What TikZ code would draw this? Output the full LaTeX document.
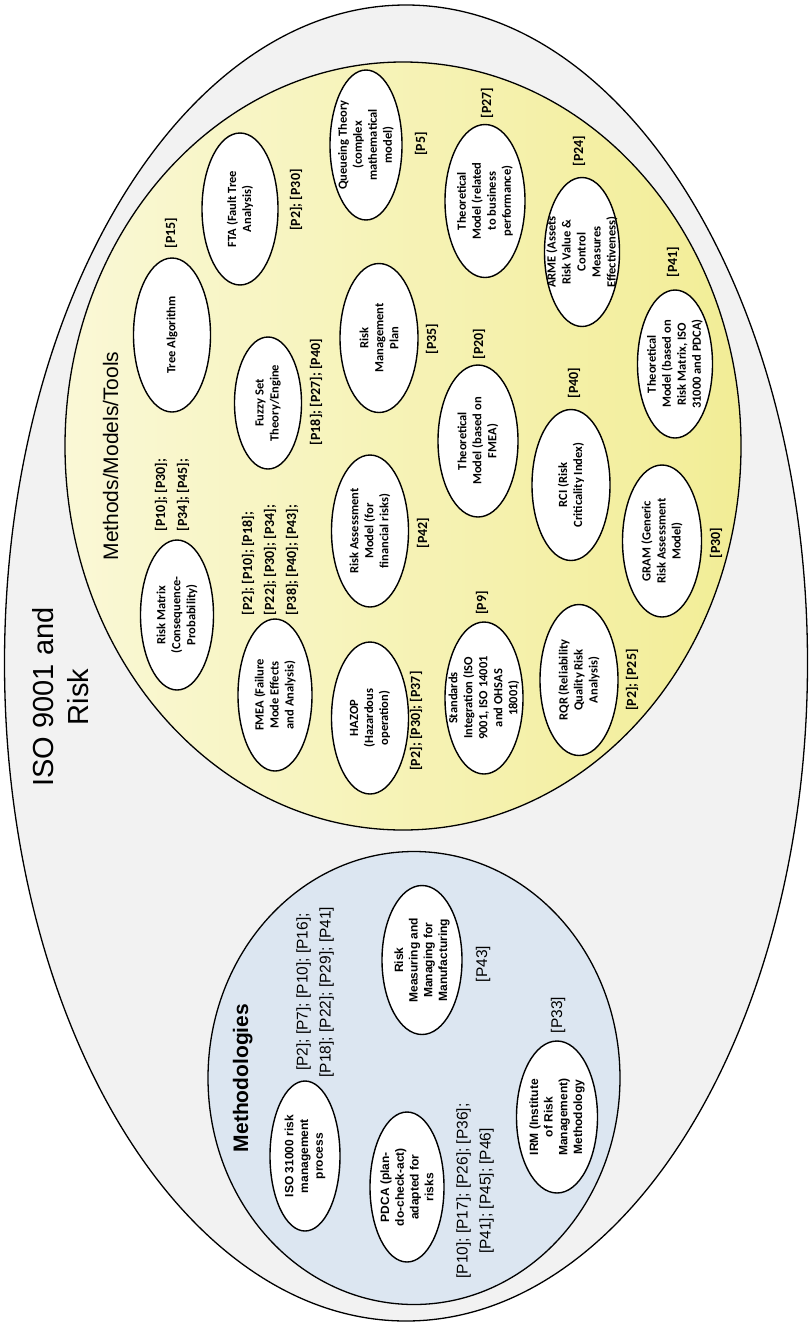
\documentclass[tikz,border=0pt]{standalone}
\usepackage{fontspec}
\setmainfont{Liberation Sans}
\newfontfamily\calfont{Carlito}
\usetikzlibrary{shapes.geometric}

\definecolor{outergray}{HTML}{F2F2F2}
\definecolor{yellowlight}{HTML}{FAF8D6}
\definecolor{yellowdeep}{HTML}{F2ED96}
\definecolor{bluefill}{HTML}{DCE6F1}

\tikzset{
    region/.style={draw, ellipse, line width=1.3pt, inner sep=0pt},
    bubble/.style={draw, ellipse, fill=white, line width=1.4pt, rotate=90, inner sep=0pt,
        minimum width=152pt, minimum height=77pt},
    ytext/.style={rotate=90, align=center, inner sep=0pt,
        font=\calfont\bfseries\fontsize{12.5}{15}\selectfont},
    btext/.style={rotate=90, align=center, inner sep=0pt,
        font=\bfseries\fontsize{12}{14.7}\selectfont},
    yref/.style={rotate=90, align=left, inner sep=0pt,
        font=\calfont\bfseries\fontsize{14}{22}\selectfont},
    bref/.style={rotate=90, align=center, inner sep=0pt,
        font=\fontsize{15.5}{23}\selectfont},
}

\begin{document}
\begin{tikzpicture}[x=1pt, y=-1pt]
    \useasboundingbox (0,0) rectangle (810,1325);

    % Regions
    \node [region, fill=outergray, minimum width=803pt, minimum height=1316pt] (iso) at (406,663) {};
    \node [region, left color=yellowlight, right color=yellowdeep, minimum width=676pt, minimum height=768pt] (methods) at (403,446) {};
    \node [region, fill=bluefill, minimum width=412pt, minimum height=453pt] (methodologies) at (414,1078) {};

    % Titles
    \node [rotate=90, align=center, inner sep=0pt, font=\fontsize{29}{35}\selectfont] (isotitle) at (61,697) {ISO 9001 and\\Risk};
    \node [rotate=90, anchor=base, inner sep=0pt, font=\fontsize{21}{25}\selectfont] (methodstitle) at (118,456) {Methods/Models/Tools};
    \node [rotate=90, anchor=base, inner sep=0pt, font=\bfseries\fontsize{21}{25}\selectfont] (methodologiestitle) at (248,1078) {Methodologies};

    % Methods/Models/Tools
    \node [bubble, minimum height=73pt, minimum width=150pt] (riskmatrix) at (177,615) {};
    \node [ytext] (riskmatrix-t) at (riskmatrix) {Risk Matrix\\(Consequence-\\Probability)};
    \node [bubble, minimum width=154pt] (treealg) at (172,335) {};
    \node [ytext] (treealg-t) at (treealg) {Tree Algorithm};
    \node [bubble, minimum height=76pt] (fta) at (240,209) {};
    \node [ytext] (fta-t) at (fta) {FTA (Fault Tree\\Analysis)};
    \node [bubble, minimum height=72pt, minimum width=150pt] (queue) at (366,145) {};
    \node [ytext] (queue-t) at (queue) {Queueing Theory\\(complex\\mathematical\\model)};
    \node [bubble, minimum height=67pt, minimum width=132pt] (fuzzy) at (268,403) {};
    \node [ytext] (fuzzy-t) at (fuzzy) {Fuzzy Set\\Theory/Engine};
    \node [bubble, minimum height=74pt] (fmea) at (275,695) {};
    \node [ytext] (fmea-t) at (fmea) {FMEA (Failure\\Mode Effects\\and Analysis)};
    \node [bubble, minimum height=78pt, minimum width=149pt] (riskplan) at (379,338) {};
    \node [ytext] (riskplan-t) at (riskplan) {Risk\\Management\\Plan};
    \node [bubble] (riskassess) at (370,531) {};
    \node [ytext] (riskassess-t) at (riskassess) {Risk Assessment\\Model (for\\financial risks)};
    \node [bubble] (hazop) at (370,718) {};
    \node [ytext] (hazop-t) at (hazop) {HAZOP\\(Hazardous\\operation)};
    \node [bubble, minimum height=80pt, minimum width=153pt] (theobiz) at (485,201) {};
    \node [ytext] (theobiz-t) at (theobiz) {Theoretical\\Model (related\\to business\\performance)};
    \node [bubble, minimum height=80pt] (theofmea) at (478,441) {};
    \node [ytext] (theofmea-t) at (theofmea) {Theoretical\\Model (based on\\FMEA)};
    \node [bubble, minimum height=78pt] (stdint) at (484,698) {};
    \node [ytext] (stdint-t) at (stdint) {Standards\\Integration (ISO\\9001, ISO 14001\\and OHSAS\\18001)};
    \node [bubble, minimum height=75pt, minimum width=149pt] (arme) at (582,252) {};
    \node [ytext] (arme-t) at (arme) {ARME (Assets\\Risk Value \&\\Control\\Measures\\Effectiveness)};
    \node [bubble, minimum height=78pt, minimum width=151pt] (rci) at (571,485) {};
    \node [ytext] (rci-t) at (rci) {RCI (Risk\\Criticality Index)};
    \node [bubble, minimum height=78pt, minimum width=151pt] (rqr) at (579,680) {};
    \node [ytext] (rqr-t) at (rqr) {RQR (Reliability\\Quality Risk\\Analysis)};
    \node [bubble, minimum height=75pt, minimum width=148pt] (theomatrix) at (675,364) {};
    \node [ytext] (theomatrix-t) at (theomatrix) {Theoretical\\Model (based on\\Risk Matrix, ISO\\31000 and PDCA)};
    \node [bubble, minimum height=79pt] (gram) at (662,541) {};
    \node [ytext] (gram-t) at (gram) {GRAM (Generic\\Risk Assessment\\Model)};

    \node [yref] (riskmatrix-r) at (172,495) {[P10]; [P30];\\{}[P34]; [P45];};
    \node [yref] (treealg-r) at (171,233) {[P15]};
    \node [yref] (fta-r) at (296,200) {[P2]; [P30]};
    \node [yref] (fmea-r) at (270,560) {[P2]; [P10]; [P18];\\{}[P22]; [P30]; [P34];\\{}[P38]; [P40]; [P43];};
    \node [yref] (fuzzy-r) at (316,392) {[P18]; [P27]; [P40]};
    \node [yref] (queue-r) at (421,144) {[P5]};
    \node [yref] (riskplan-r) at (432,339) {[P35]};
    \node [yref] (riskassess-r) at (423,533) {[P42]};
    \node [yref] (hazop-r) at (416,721) {[P2]; [P30]; [P37]};
    \node [yref] (theobiz-r) at (487,103) {[P27]};
    \node [yref] (theofmea-r) at (479,344) {[P20]};
    \node [yref] (stdint-r) at (482,603) {[P9]};
    \node [yref] (arme-r) at (579,151) {[P24]};
    \node [yref] (rci-r) at (574,383) {[P40]};
    \node [yref] (rqr-r) at (632,680) {[P2]; [P25]};
    \node [yref] (theomatrix-r) at (673,262) {[P41]};
    \node [yref] (gram-r) at (716,543) {[P30]};

    % Methodologies
    \node [bubble, minimum height=80pt, minimum width=149pt] (riskmanuf) at (422,960) {};
    \node [btext] (riskmanuf-t) at (riskmanuf) {Risk\\Measuring and\\Managing for\\Manufacturing};
    \node [bubble, minimum height=70pt, minimum width=150pt] (iso31000) at (305,1156) {};
    \node [btext] (iso31000-t) at (iso31000) {ISO 31000 risk\\management\\process};
    \node [bubble, minimum height=74pt, minimum width=150pt] (pdca) at (407,1187) {};
    \node [btext] (pdca-t) at (pdca) {PDCA (plan-\\do-check-act)\\adapted for\\risks};
    \node [bubble, minimum height=81pt] (irm) at (557,1117) {};
    \node [btext] (irm-t) at (irm) {IRM (Institute\\of Risk\\Management)\\Methodology};

    \node [bref] (iso31000-r) at (315,992) {[P2]; [P7]; [P10]; [P16];\\{}[P18]; [P22]; [P29]; [P41]};
    \node [bref] (riskmanuf-r) at (483,964) {[P43]};
    \node [bref] (pdca-r) at (475,1191) {[P10]; [P17]; [P26]; [P36];\\{}[P41]; [P45]; [P46]};
    \node [bref] (irm-r) at (558,1015) {[P33]};
\end{tikzpicture}
\end{document}
